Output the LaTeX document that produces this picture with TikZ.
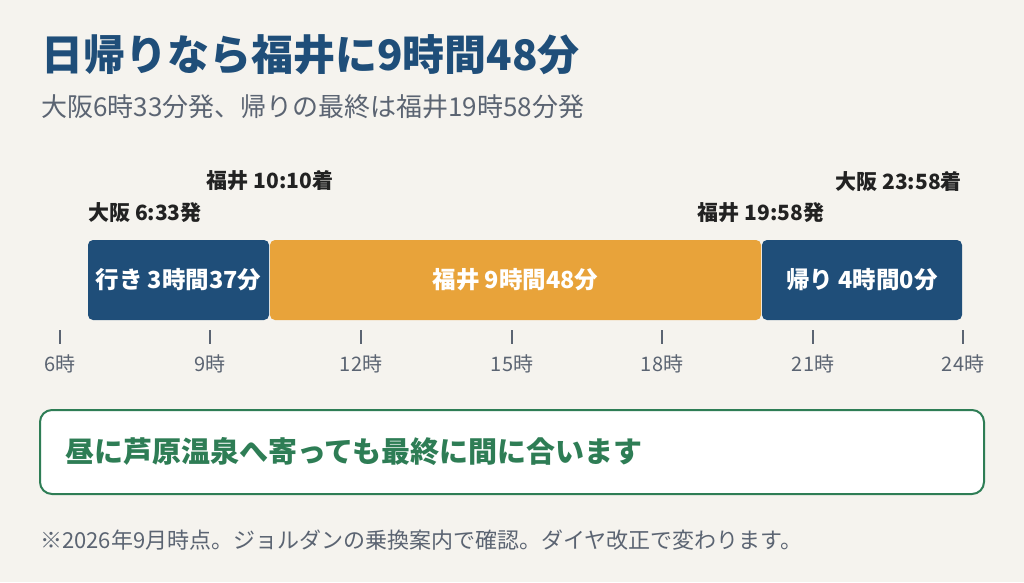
\documentclass[tikz,border=0pt]{standalone}
\usepackage{fontspec}
\setmainfont{Noto Sans CJK JP}
\usepackage{tikz}
\usetikzlibrary{positioning}
\definecolor{navy}{HTML}{1F4E79}
\definecolor{amber}{HTML}{E8A33A}
\definecolor{paper}{HTML}{F5F3EE}
\definecolor{ink}{HTML}{222222}
\definecolor{slate}{HTML}{5B6472}
\definecolor{pine}{HTML}{2E7D55}
\tikzstyle{leg} = [rectangle, rounded corners=5pt, minimum height=80pt, inner sep=0pt, text=white, font=\bfseries\fontsize{23.5}{27}\selectfont]
\tikzstyle{stamp} = [inner sep=0pt, text=ink, font=\bfseries\fontsize{21}{24}\selectfont]
\tikzstyle{hour} = [inner sep=0pt, text=slate, font=\fontsize{20}{23}\selectfont]
\tikzstyle{tick} = [slate, line width=1.3pt]
\tikzstyle{note} = [rectangle, rounded corners=12pt, line width=2pt, draw=pine, fill=white, minimum width=944pt, minimum height=84pt]

\begin{document}
\begin{tikzpicture}[x=1pt, y=-1pt]
    \fill [paper] (0,0) rectangle (1024,582);
    \useasboundingbox (0,0) rectangle (1024,582);
    % heading
    \node (title) [anchor=west, inner sep=0pt, text=navy, font=\bfseries\fontsize{42}{48}\selectfont] at (41,55) {日帰りなら福井に9時間48分};
    \node (sub) [anchor=west, inner sep=0pt, text=slate, font=\fontsize{26}{30}\selectfont] at (41,107) {大阪6時33分発、帰りの最終は福井19時58分発};
    % bars
    \node (go) [leg, fill=navy, minimum width=181pt] at (178.5,280) {行き 3時間37分};
    \node (stay) [leg, fill=amber, minimum width=491pt] at (515.5,280) {福井 9時間48分};
    \node (back) [leg, fill=navy, minimum width=200pt] at (862,280) {帰り 4時間0分};
    % times
    \node (dep1) [stamp, anchor=west] at (88,213) {大阪 6:33発};
    \node (arr1) [stamp] at (270,181) {福井 10:10着};
    \node (dep2) [stamp] at (761,213) {福井 19:58発};
    \node (arr2) [stamp, anchor=east] at (962,181) {大阪 23:58着};
    % axis
    \draw [tick] (60,330) -- (60,344) node (h6) [hour, below=10pt] {6時};
    \draw [tick] (210,330) -- (210,344) node (h9) [hour, below=10pt] {9時};
    \draw [tick] (361,330) -- (361,344) node (h12) [hour, below=10pt] {12時};
    \draw [tick] (512,330) -- (512,344) node (h15) [hour, below=10pt] {15時};
    \draw [tick] (662,330) -- (662,344) node (h18) [hour, below=10pt] {18時};
    \draw [tick] (813,330) -- (813,344) node (h21) [hour, below=10pt] {21時};
    \draw [tick] (963,330) -- (963,344) node (h24) [hour, below=10pt] {24時};
    % message
    \node (box) [note] at (512,452) {};
    \node (msg) [anchor=west, inner sep=0pt, text=pine, font=\bfseries\fontsize{29}{33}\selectfont] at (65,451) {昼に芦原温泉へ寄っても最終に間に合います};
    \node (foot) [anchor=west, inner sep=0pt, text=slate, font=\fontsize{22}{25}\selectfont] at (40,540) {※2026年9月時点。ジョルダンの乗換案内で確認。ダイヤ改正で変わります。};
\end{tikzpicture}
\end{document}
